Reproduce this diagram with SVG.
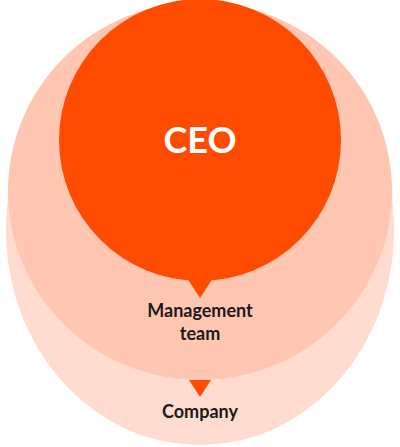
<svg xmlns="http://www.w3.org/2000/svg" width="400" height="447" viewBox="0 0 400 447">
  <style>
    .lbl { font-family: Lato, "Noto Sans", "Liberation Sans", sans-serif; fill: #1c1a1a; text-anchor: middle; font-weight: 700; }
    .ceo { font-family: Lato, "Noto Sans", "Liberation Sans", sans-serif; fill: #ffffff; text-anchor: middle; font-weight: 700; font-size: 36px; }
    .ptr { fill: #ff4b00; }
  </style>
  <rect width="400" height="447" fill="#ffffff"/>
  <g id="company">
    <ellipse cx="200" cy="230" rx="194" ry="215" fill="#ffdccf"/>
    <text class="lbl" x="200" y="418" font-size="18">Company</text>
  </g>
  <g id="management-team">
    <ellipse cx="200" cy="191" rx="192" ry="189" fill="#ffc6b2"/>
    <text class="lbl" x="200" y="317" font-size="18">Management</text>
    <text class="lbl" x="200" y="340" font-size="18">team</text>
  </g>
  <g id="ceo">
    <circle cx="200" cy="140" r="141" fill="#ff4b00"/>
    <text class="ceo" x="200" y="153">CEO</text>
  </g>
  <g id="connectors">
    <path class="ptr" d="M187 278 L213 278 L200 298 Z"/>
    <path class="ptr" d="M189 380 L211 380 L200 397 Z"/>
  </g>
</svg>
